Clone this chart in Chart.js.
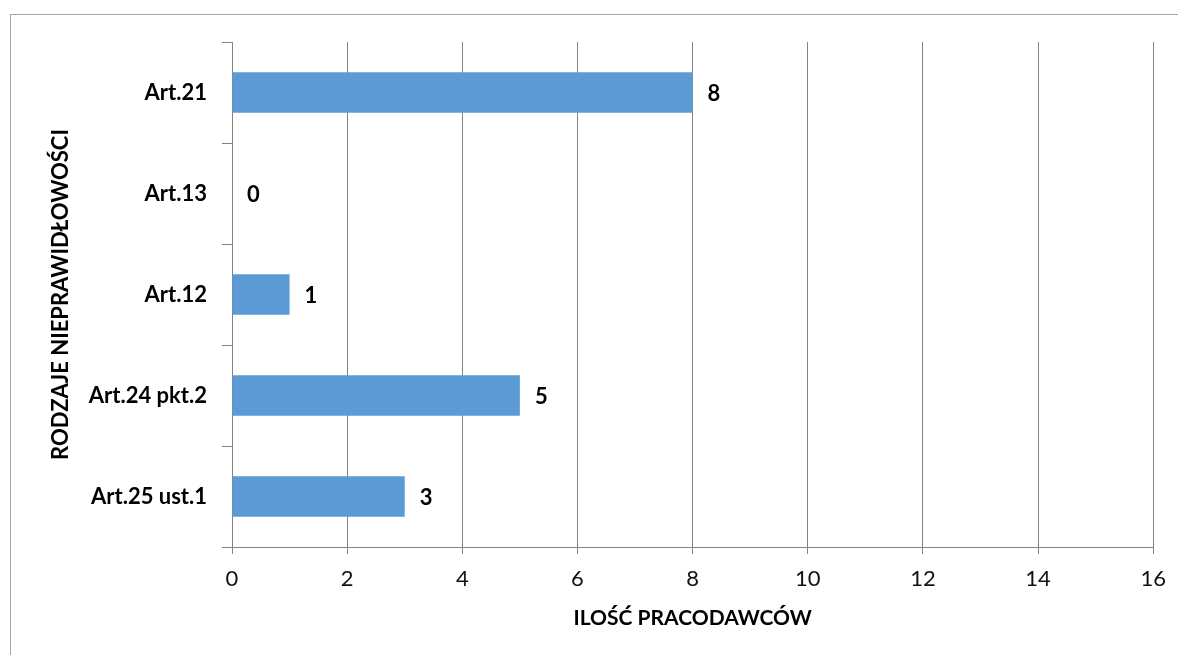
<!DOCTYPE html>
<html>
<head>
<meta charset="utf-8">
<script src="https://cdn.jsdelivr.net/npm/chart.js@4/dist/chart.umd.min.js"></script>
<style>
  html, body { margin: 0; padding: 0; background: #fff; }
  #wrap { position: relative; width: 1178px; height: 655px; overflow: hidden; }
  #frame { position: absolute; left: 10px; top: 14px; width: 1300px; height: 800px;
           border-top: 1px solid #a6a6a6; border-left: 1px solid #a6a6a6; pointer-events: none; }
  canvas { position: absolute; left: 0; top: 0; }
</style>
</head>
<body>
<div id="wrap">
  <canvas id="chart" width="1178" height="655"></canvas>
  <div id="frame"></div>
</div>
<script>
// Rodzaje nieprawidłowości i liczba pracodawców
const categories = ['Art.21', 'Art.13', 'Art.12', 'Art.24 pkt.2', 'Art.25 ust.1'];
const employers = [8, 0, 1, 5, 3];
const xTicks = [0, 2, 4, 6, 8, 10, 12, 14, 16];

const FONT = 'Lato, "Open Sans", sans-serif';
const GRID = '#828282';

// Value labels drawn just past the end of each bar
const valueLabels = {
  id: 'valueLabels',
  afterDatasetsDraw(chart) {
    const { ctx } = chart;
    const meta = chart.getDatasetMeta(0);
    ctx.save();
    ctx.font = 'bold 22px ' + FONT;
    ctx.fillStyle = '#000';
    ctx.textAlign = 'left';
    ctx.textBaseline = 'middle';
    meta.data.forEach((bar, i) => {
      ctx.fillText(String(employers[i]), bar.x + 15, bar.y + 1);
    });
    ctx.restore();
  }
};

new Chart(document.getElementById('chart'), {
  type: 'bar',
  data: {
    labels: categories,
    datasets: [{
      data: employers,
      backgroundColor: '#5B9BD5',
      borderWidth: 0,
      barPercentage: 0.4,
      categoryPercentage: 1.0
    }]
  },
  plugins: [valueLabels],
  options: {
    indexAxis: 'y',
    responsive: false,
    animation: false,
    devicePixelRatio: 1,
    layout: { padding: { top: 42, right: 24, left: 0, bottom: 0 } },
    plugins: { legend: { display: false }, tooltip: { enabled: false } },
    scales: {
      x: {
        min: 0,
        max: 16,
        afterBuildTicks(scale) { scale.ticks = xTicks.map(v => ({ value: v })); },
        afterFit(scale) { scale.height = 108; },
        grid: { color: GRID, lineWidth: 1, tickLength: 7, drawTicks: true },
        border: { color: GRID, width: 1 },
        ticks: { color: '#111', font: { family: FONT, size: 22 }, padding: 12, maxRotation: 0 },
        title: {
          display: true,
          text: 'ILOŚĆ PRACODAWCÓW',
          color: '#000',
          font: { family: FONT, size: 21, weight: 'bold' },
          padding: { top: 0, bottom: 24 }
        }
      },
      y: {
        afterFit(scale) { scale.width = 232; },
        grid: { drawOnChartArea: false, drawTicks: true, tickLength: 10, color: GRID, offset: true },
        border: { color: GRID, width: 1 },
        ticks: { color: '#000', font: { family: FONT, size: 22, weight: 'bold' }, padding: 15 },
        title: {
          display: true,
          text: 'RODZAJE NIEPRAWIDŁOWOŚCI',
          color: '#000',
          font: { family: FONT, size: 22, weight: 'bold' },
          padding: { top: 48, bottom: 0 }
        }
      }
    }
  }
});
</script>
</body>
</html>
